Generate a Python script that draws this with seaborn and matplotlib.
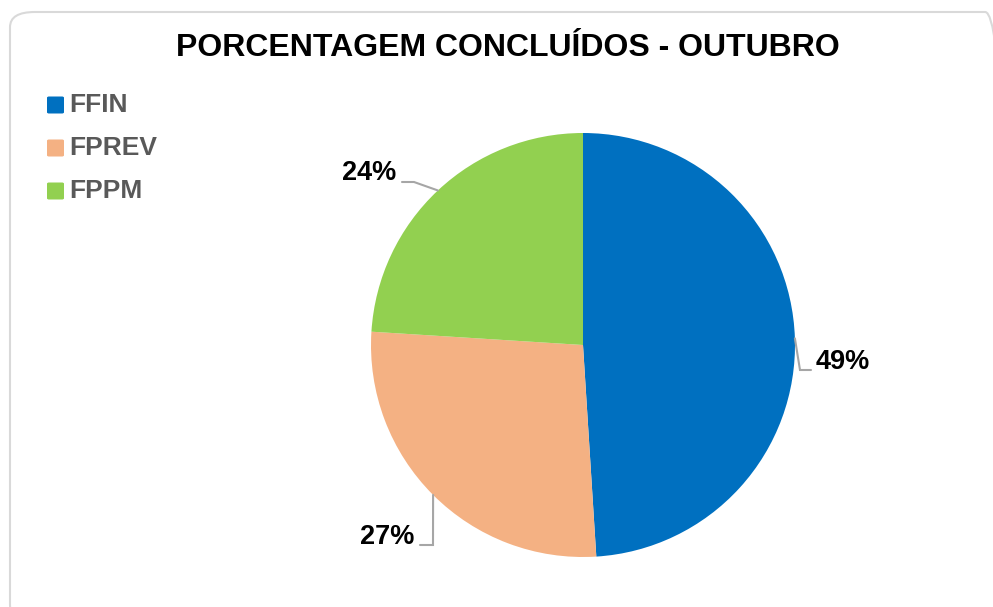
import numpy as np
import matplotlib
matplotlib.use("Agg")
import matplotlib.pyplot as plt
from matplotlib.patches import FancyBboxPatch
import seaborn as sns

# ---- data ----
categories = ["FFIN", "FPREV", "FPPM"]
values = [49, 27, 24]
labels = ["49%", "27%", "24%"]
colors = ["#0070C0", "#F4B183", "#92D050"]
title = "PORCENTAGEM CONCLUÍDOS - OUTUBRO"

sns.set_theme(style="white")
plt.rcParams["font.family"] = ["Liberation Sans", "DejaVu Sans"]

W, H = 993, 607
fig = plt.figure(figsize=(W / 100, H / 100), dpi=100)
fig.patch.set_facecolor("white")

# rounded frame
frame = FancyBboxPatch((10 / W, 1 - 620 / H), 1000 / W, 608 / H,
                       boxstyle="round,pad=0,rounding_size=0.025",
                       transform=fig.transFigure, facecolor="none",
                       edgecolor="#D9D9D9", linewidth=1.5, zorder=-5)
fig.patches.append(frame)

# pie axes: center (583,345) px, radius 212 px
cx, cy, R = 583, 345, 212
ax = fig.add_axes([(cx - R) / W, (H - cy - R) / H, 2 * R / W, 2 * R / H])
ax.set_facecolor("none")
ax.set_zorder(5)
wedges, _ = ax.pie(values, colors=colors, startangle=90, counterclock=False,
                   radius=1, wedgeprops=dict(linewidth=0))
ax.set_xlim(-1, 1)
ax.set_ylim(-1, 1)
ax.set_aspect("auto")
ax.axis("off")

def px2d(px, py):
    return (px - cx) / R, (cy - py) / R

# label layout (pixels): elbow, end, text position, ha
layout = {
    "FFIN": ((800, 370), (811, 370), (816, 362), "left"),
    "FPREV": ((433, 545), (420, 545), (414, 537), "right"),
    "FPPM": ((414, 182), (402, 182), (396, 173), "right"),
}
for w, cat, lab in zip(wedges, categories, labels):
    mid = np.deg2rad((w.theta1 + w.theta2) / 2)
    ax0, ay0 = np.cos(mid), np.sin(mid)
    elbow, end, tpos, ha = layout[cat]
    ex, ey = px2d(*elbow)
    nx, ny = px2d(*end)
    ax.plot([ax0, ex, nx], [ay0, ey, ny], color="#A6A6A6", lw=1.5,
            clip_on=False, solid_joinstyle="miter")
    tx, ty = px2d(*tpos)
    ax.text(tx, ty, lab, ha=ha, va="center", fontsize=19.5, fontweight="bold",
            color="black", clip_on=False)

# title
fig.text(508 / W, 1 - 48 / H, title, ha="center", va="center",
         fontsize=23, fontweight="bold", color="black")

# legend
for i, (cat, col) in enumerate(zip(categories, colors)):
    y = 105 + i * 43
    sq = FancyBboxPatch((47 / W, 1 - (y + 8.5) / H), 17 / W, 17 / H,
                        boxstyle="round,pad=0,rounding_size=0.002",
                        transform=fig.transFigure, facecolor=col,
                        edgecolor="none")
    fig.patches.append(sq)
    fig.text(69 / W, 1 - y / H, cat, ha="left", va="center", fontsize=19,
             fontweight="bold", color="#595959")

fig.savefig("out.png", dpi=100)
